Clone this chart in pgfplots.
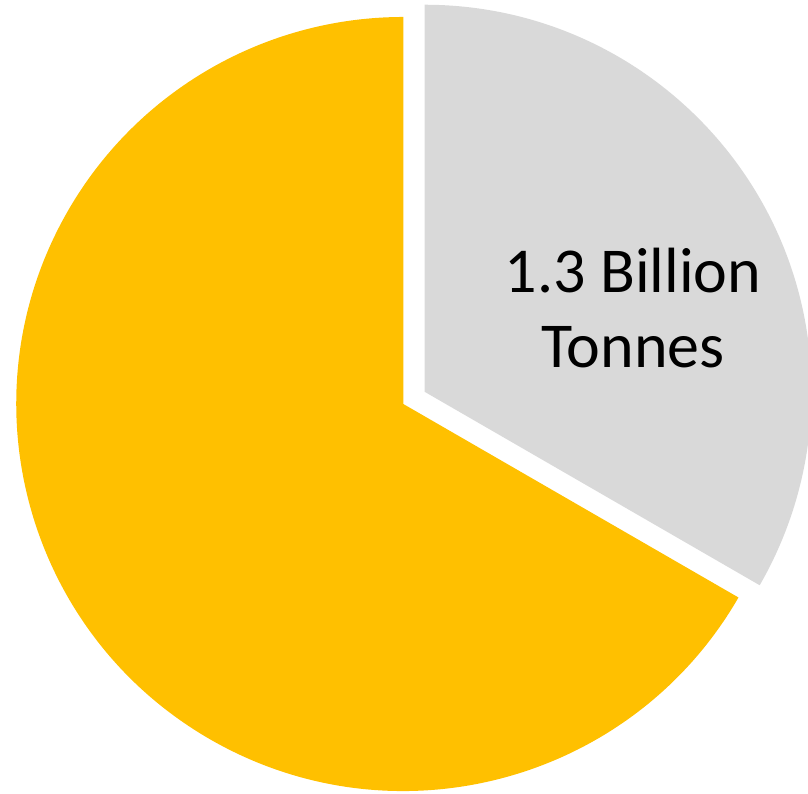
\documentclass[border=0pt]{standalone}
\usepackage{pgfplots}
\pgfplotsset{compat=1.18}
\usepackage{pgfplotstable}
\usetikzlibrary{calc}
\usepackage{fontspec}
\setmainfont{Carlito}
\definecolor{pieyellow}{HTML}{FFC000}
\definecolor{piegrey}{HTML}{D9D9D9}
\pgfplotstableread{
label value
Wasted 1.3
Rest 2.6
}\piedata
\pgfplotstablegetelem{0}{value}\of\piedata \let\vA\pgfplotsretval
\pgfplotstablegetelem{1}{value}\of\piedata \let\vB\pgfplotsretval
\pgfmathsetmacro{\total}{\vA+\vB}
\pgfmathsetmacro{\aStart}{90}
\pgfmathsetmacro{\aMid}{90-360*\vA/\total}
\pgfmathsetmacro{\aEnd}{\aMid-360*\vB/\total}
\pgfmathsetmacro{\aBis}{(\aStart+\aMid)/2}
\def\cx{4.033}
\def\cy{3.90}
\def\R{3.87}
\def\explode{0.245}
\begin{document}
\begin{tikzpicture}
\begin{axis}[name=ax,
  x=1cm, y=1cm,
  xmin=0, xmax=8.08, ymin=0, ymax=7.94,
  hide axis, clip=true]
  % yellow slice
  \fill[pieyellow] (axis cs:\cx,\cy) -- ++(\aMid:\R)
     arc[start angle=\aMid, end angle=\aEnd, radius=\R] -- cycle;
  % grey slice, exploded
  \fill[piegrey] ($(axis cs:\cx,\cy)+(\aBis:\explode)$) -- ++(\aStart:\R)
     arc[start angle=\aStart, end angle=\aMid, radius=\R] -- cycle;
  \node[anchor=base, font=\fontsize{18.2}{21}\selectfont] at (axis cs:6.33,5.013) {1.3 Billion};
  \node[anchor=base, font=\fontsize{18.2}{21}\selectfont] at (axis cs:6.33,4.26) {Tonnes};
\end{axis}
\pgfresetboundingbox
\path (ax.south west) rectangle (ax.north east);
\end{tikzpicture}
\end{document}
